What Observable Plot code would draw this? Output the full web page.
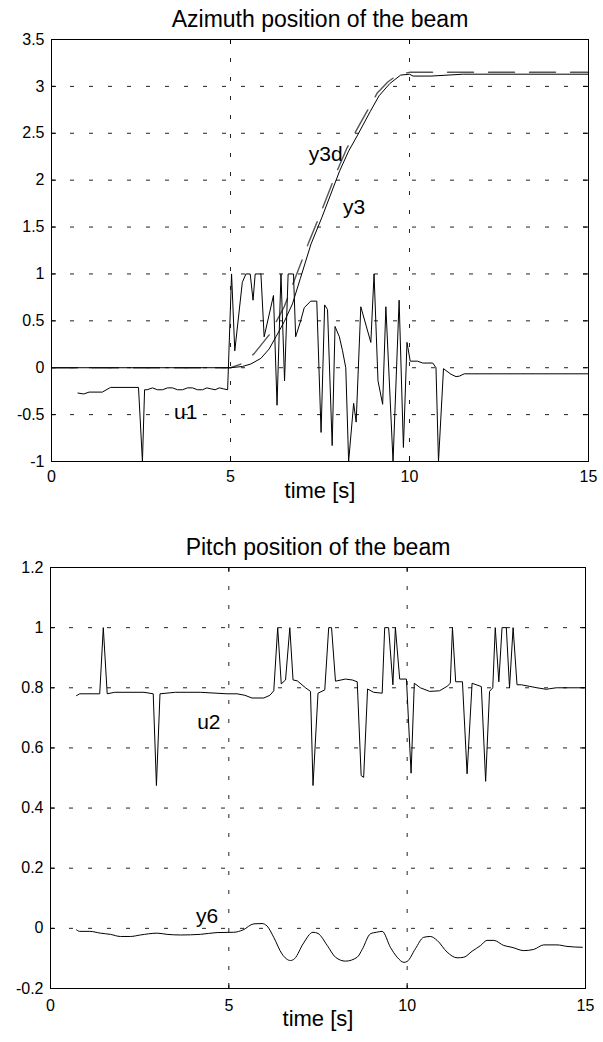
<!DOCTYPE html>
<html>
<head>
<meta charset="utf-8">
<script src="https://cdn.jsdelivr.net/npm/d3@7"></script>
<script src="https://cdn.jsdelivr.net/npm/@observablehq/plot@0.6"></script>
<style>
  html, body { margin: 0; padding: 0; background: #fff; }
  #charts svg { display: block; }
</style>
</head>
<body>
<div id="charts"></div>
<script>
// ---------- Tick values ----------
const xTicks = [0, 5, 10, 15];
const xGridVals = [5, 10];
const topYTicks = [-1, -0.5, 0, 0.5, 1, 1.5, 2, 2.5, 3, 3.5];
const topYGridVals = [-0.5, 0, 0.5, 1, 1.5, 2, 2.5, 3];
const botYTicks = [-0.2, 0, 0.2, 0.4, 0.6, 0.8, 1, 1.2];
const botYGridVals = [0, 0.2, 0.4, 0.6, 0.8, 1];

const topTitle = "Azimuth position of the beam";
const botTitle = "Pitch position of the beam";
const xLabel = "time [s]";

// ---------- Top plot series ----------
const u1T = [0.74, 0.9, 1.05, 1.42, 1.65, 2.43, 2.54, 2.6, 2.67, 2.82, 2.96, 3.1, 3.24, 3.38, 3.52, 3.66, 3.8, 3.94, 4.08, 4.22, 4.34, 4.45, 4.57, 4.69, 4.8, 4.92,
  5.03, 5.12, 5.33, 5.43, 5.55, 5.63, 5.69, 5.85, 5.94, 6.2, 6.3, 6.41, 6.51, 6.61, 6.76, 6.82, 6.96, 7.06, 7.24, 7.41, 7.53, 7.63, 7.71, 7.84, 7.92, 8.04, 8.13, 8.22,
  8.30, 8.44, 8.51, 8.64, 8.92, 9.01, 9.12, 9.25, 9.34, 9.54, 9.71, 9.83, 9.93, 10.02, 10.22, 10.37, 10.65, 10.74, 10.81, 10.95, 11.16, 11.3, 11.39, 11.53, 15];
const u1V = [-0.27, -0.28, -0.26, -0.26, -0.21, -0.21, -1.0, -0.235, -0.235, -0.215, -0.235, -0.235, -0.215, -0.215, -0.235, -0.235, -0.215, -0.215, -0.235, -0.235, -0.215, -0.225, -0.235, -0.215, -0.225, -0.235,
  1.0, 0.18, 0.91, 1.0, 1.0, 0.72, 1.0, 1.0, 0.33, 0.77, -0.4, 1.0, -0.14, 1.0, 1.0, 0.33, 0.5, 0.64, 0.71, 0.71, -0.69, 0.67, 0.62, -0.83, 0.44, 0.33, 0.18, 0.0,
  -1.0, -0.38, -0.58, 0.65, 0.27, 1.0, -0.14, -0.39, 0.65, -1.0, 0.72, -0.85, 0.27, 0.07, 0.07, 0.05, 0.05, 0.0, -1.0, -0.01, -0.07, -0.095, -0.09, -0.065, -0.065];

const y3T = [0, 5, 5.33, 5.57, 5.85, 6.08, 6.27, 6.5, 6.73, 6.95, 7.25, 7.55, 8.05, 8.3, 8.55, 8.9, 9.15, 9.45, 9.75, 10.0, 10.1, 10.6, 11.5, 15];
const y3V = [0, 0, 0.013, 0.04, 0.1, 0.2, 0.33, 0.49, 0.68, 0.95, 1.32, 1.6, 2.1, 2.31, 2.48, 2.73, 2.9, 3.03, 3.12, 3.13, 3.11, 3.11, 3.13, 3.13];

const y3dT = [0, 5, 5.3, 5.66, 6.08, 6.5, 6.85, 7.2, 7.5, 8.0, 8.25, 8.5, 8.85, 9.1, 9.4, 9.7, 10.0, 15];
const y3dV = [0, 0, 0.04, 0.15, 0.35, 0.65, 1.0, 1.35, 1.63, 2.12, 2.34, 2.52, 2.76, 2.93, 3.05, 3.13, 3.15, 3.15];

const topLabelText = ["y3d", "y3", "u1"];
const topLabelT = [7.66, 8.45, 3.75];
const topLabelV = [2.28, 1.71, -0.47];

// ---------- Bottom plot series ----------
const u2T = [0.73, 0.82, 1.38, 1.48, 1.59, 1.8, 2.62, 2.88, 2.97, 3.07, 3.5, 4.2, 4.95, 5.23, 5.45, 5.65, 5.98, 6.15, 6.26, 6.37, 6.47, 6.59, 6.71, 6.80, 6.92, 7.15, 7.29, 7.36, 7.5,
  7.69, 7.80, 7.88, 7.99, 8.27, 8.46, 8.60, 8.71, 8.78, 8.89, 9.06, 9.30, 9.37, 9.48, 9.60, 9.67, 9.79, 9.98, 10.11, 10.2, 10.37, 10.63, 10.91, 11.12, 11.21, 11.27, 11.36,
  11.55, 11.68, 11.82, 12.08, 12.2, 12.31, 12.4, 12.47, 12.57, 12.66, 12.78, 12.87, 12.97, 13.08, 13.2, 13.64, 13.9, 14.0, 14.18, 14.95];
const u2V = [0.774, 0.78, 0.78, 1.0, 0.78, 0.785, 0.785, 0.78, 0.475, 0.78, 0.785, 0.785, 0.78, 0.78, 0.775, 0.766, 0.766, 0.775, 0.79, 1.0, 0.813, 0.826, 1.0, 0.826, 0.823, 0.8, 0.788, 0.475, 0.782,
  0.793, 1.0, 1.0, 0.822, 0.829, 0.826, 0.82, 0.508, 0.502, 0.796, 0.785, 0.782, 1.0, 1.0, 0.81, 1.0, 0.829, 0.829, 0.516, 0.815, 0.80, 0.788, 0.79, 0.805, 0.815, 1.0, 0.82,
  0.82, 0.514, 0.815, 0.804, 0.489, 0.788, 0.80, 1.0, 0.82, 1.0, 1.0, 0.80, 1.0, 0.81, 0.81, 0.80, 0.795, 0.797, 0.80, 0.80];

const y6T = [0.73, 0.82, 1.1, 1.4, 1.68, 1.96, 2.24, 2.52, 2.99, 3.27, 3.64, 4.2, 4.67, 5.14, 5.4, 5.70, 5.93, 6.07, 6.26, 6.49, 6.73, 6.85, 7.08, 7.36, 7.5, 7.76, 7.99, 8.27,
  8.60, 8.74, 8.97, 9.14, 9.30, 9.53, 9.72, 9.91, 10.0, 10.23, 10.46, 10.65, 10.84, 11.12, 11.40, 11.59, 11.82, 12.06, 12.24, 12.43, 12.71, 12.94, 13.27, 13.55, 13.83, 14.2, 14.48, 14.91];
const y6V = [-0.005, -0.01, -0.01, -0.016, -0.02, -0.027, -0.027, -0.022, -0.016, -0.02, -0.022, -0.02, -0.014, -0.013, -0.005, 0.015, 0.016, 0.008, -0.03, -0.085, -0.107, -0.1, -0.052, -0.013, -0.017, -0.057, -0.096, -0.109,
  -0.096, -0.07, -0.018, -0.013, -0.01, -0.063, -0.096, -0.113, -0.11, -0.068, -0.03, -0.027, -0.04, -0.079, -0.098, -0.096, -0.076, -0.057, -0.04, -0.04, -0.057, -0.063, -0.074, -0.07, -0.055, -0.055, -0.06, -0.063];

const botLabelText = ["u2", "y6"];
const botLabelT = [4.44, 4.39];
const botLabelV = [0.685, 0.04];

// ---------- helpers ----------
const FONT = "'Liberation Sans', Arial, Helvetica, sans-serif";
const pairs = (ts, vs) => ts.map((t, i) => [t, vs[i]]);
const labels = (txt, ts, vs) => txt.map((s, i) => ({s, t: ts[i], v: vs[i]}));
const fmt = d => String(d);

function chart(cfg) {
  const pw = cfg.width - cfg.ml - cfg.mr;
  const ph = cfg.height - cfg.mt - cfg.mb;
  const gridStyle = {stroke: "#222", strokeOpacity: 1, strokeWidth: 1, strokeDasharray: "4,15"};
  return Plot.plot({
    width: cfg.width,
    height: cfg.height,
    marginLeft: cfg.ml, marginRight: cfg.mr, marginTop: cfg.mt, marginBottom: cfg.mb,
    style: {fontFamily: FONT, background: "#fff", color: "#000", overflow: "visible"},
    x: {domain: [0, 15]},
    y: {domain: cfg.yDomain},
    marks: [
      Plot.gridY(cfg.yGrid, gridStyle),
      Plot.gridX(xGridVals, gridStyle),
      Plot.tickX(xTicks, {x: d => d, insetTop: ph - 5, stroke: "#000"}),
      Plot.tickX(xTicks, {x: d => d, insetBottom: ph - 5, stroke: "#000"}),
      Plot.tickY(cfg.yTicks, {y: d => d, insetRight: pw - 5, stroke: "#000"}),
      Plot.tickY(cfg.yTicks, {y: d => d, insetLeft: pw - 5, stroke: "#000"}),
      ...cfg.lines,
      Plot.frame({stroke: "#000", strokeWidth: 1}),
      Plot.axisX(xTicks, {tickSize: 0, tickPadding: cfg.xPad, fontSize: 16, tickFormat: fmt, label: null}),
      Plot.axisY(cfg.yTicks, {tickSize: 0, tickPadding: 7, fontSize: 16, tickFormat: fmt, label: null}),
      Plot.text(cfg.labels, {x: "t", y: "v", text: "s", fontSize: 21, fill: "#000"}),
      Plot.text([cfg.title], {frameAnchor: "top", lineAnchor: "middle", dy: cfg.titleDy, fontSize: 23, fill: "#000"}),
      Plot.text([xLabel], {frameAnchor: "bottom", lineAnchor: "middle", dy: cfg.xlabDy, fontSize: 22, fill: "#000"})
    ]
  });
}

const topChart = chart({
  width: 603, height: 510, ml: 51, mr: 15, mt: 39, mb: 49,
  yDomain: [-1, 3.5], yTicks: topYTicks, yGrid: topYGridVals,
  xPad: 9, titleDy: -20, xlabDy: 29, title: topTitle,
  labels: labels(topLabelText, topLabelT, topLabelV),
  lines: [
    Plot.line(pairs(y3dT, y3dV), {stroke: "#555", strokeWidth: 1.4, strokeDasharray: "26,15"}),
    Plot.line(pairs(y3T, y3V), {stroke: "#000", strokeWidth: 1}),
    Plot.line(pairs(u1T, u1V), {stroke: "#000", strokeWidth: 1})
  ]
});

const bottomChart = chart({
  width: 603, height: 532, ml: 50, mr: 18, mt: 57, mb: 54,
  yDomain: [-0.2, 1.2], yTicks: botYTicks, yGrid: botYGridVals,
  xPad: 11, titleDy: -20, xlabDy: 30, title: botTitle,
  labels: labels(botLabelText, botLabelT, botLabelV),
  lines: [
    Plot.line(pairs(u2T, u2V), {stroke: "#000", strokeWidth: 1}),
    Plot.line(pairs(y6T, y6V), {stroke: "#000", strokeWidth: 1, curve: "monotone-x"})
  ]
});

const host = document.getElementById("charts");
host.appendChild(topChart);
host.appendChild(bottomChart);
</script>
</body>
</html>
